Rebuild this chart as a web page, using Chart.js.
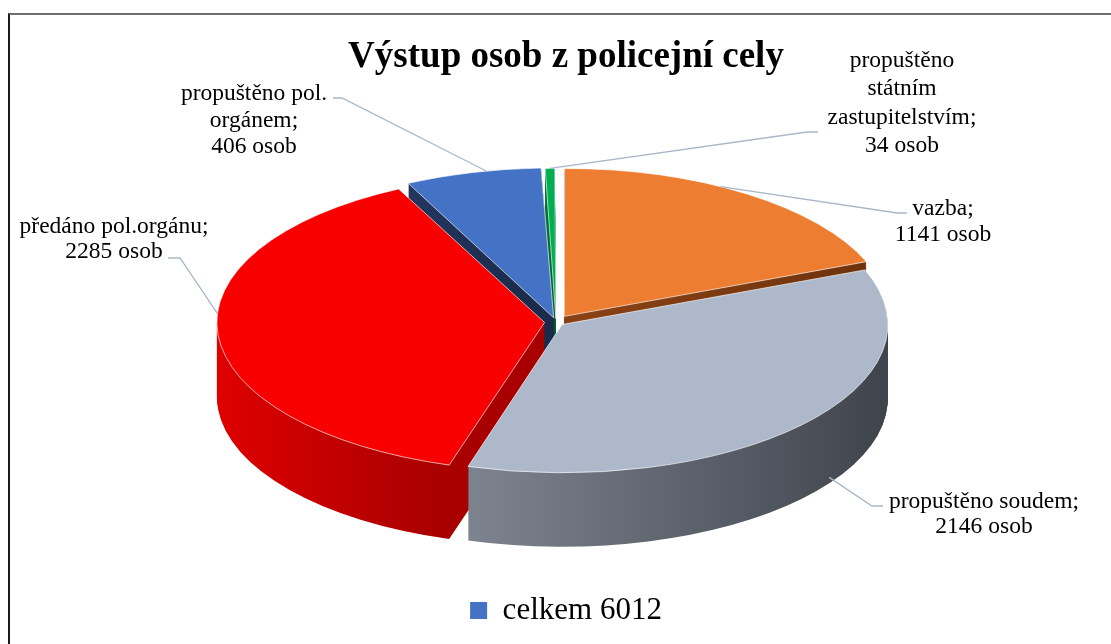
<!DOCTYPE html>
<html>
<head>
<meta charset="utf-8">
<script src="https://cdn.jsdelivr.net/npm/chart.js@4/dist/chart.umd.min.js"></script>
<style>
  html, body { margin: 0; padding: 0; background: #fff; }
  #wrap { position: relative; width: 1111px; height: 644px; overflow: hidden; }
  #frame { position: absolute; left: 8px; top: 13px; width: 1200px; height: 700px;
           border-left: 2px solid #1a1a1a; border-top: 2px solid #6e6e6e; box-sizing: border-box; }
  canvas { position: absolute; left: 0; top: 0; }
</style>
</head>
<body>
<div id="wrap">
  <div id="frame"></div>
  <canvas id="myChart" width="1111" height="644"></canvas>
</div>
<script>
// data, clockwise from 12 o'clock
const categories = ["vazba", "propuštěno soudem", "předáno pol.orgánu", "propuštěno pol. orgánem", "propuštěno státním zastupitelstvím"];
const values = [1141, 2146, 2285, 406, 34];
const nameLines = [
  ["vazba;"],
  ["propuštěno soudem;"],
  ["předáno pol.orgánu;"],
  ["propuštěno pol.", "orgánem;"],
  ["propuštěno", "státním", "zastupitelstvím;"]
];
const titleText = "Výstup osob z policejní cely";
const totalText = "celkem";

// styling
const topColors = ["#ED7D31", "#ADB9CA", "#F80000", "#4472C4", "#00B050"];
const sideColors = [
  ["#8a4215", "#6e320c"],
  ["#7c838e", "#3e434b"],
  ["#e20000", "#a80000"],
  ["#24365e", "#1a2a4a"],
  ["#007a36", "#005a28"]
];
const explode = [60, 33, 46, 38, 28];

const SERIF = "'Liberation Serif', 'Times New Roman', serif";
const CX = 556, CY = 322, TILT = 0.455, DEPTH = 74, RADIUS = 324;

// label layout: text centre x, first baseline y, line height, leader hook
const labelLayout = [
  { x: 943, y: 215, lh: 26, elbow: [897, 213], end: [907, 213], at: 0.42, frac: 1, drop: 0 },
  { x: 984, y: 508, lh: 25, elbow: [872, 506], end: [883, 506], at: 0.44, frac: 1, drop: 68 },
  { x: 114, y: 233, lh: 25, elbow: [180, 258], end: [168, 258], at: 0.56, frac: 1, drop: 0 },
  { x: 254, y: 100, lh: 26.5, elbow: [342, 98], end: [333, 98], at: 0.6, frac: 1, drop: 0 },
  { x: 902, y: 67, lh: 28.3, elbow: [807, 132], end: [818, 132], at: 0.5, frac: 1, drop: 0 }
];

function toScreen(arc, px, py) {
  return [CX + (px - arc.x), CY + (py - arc.y) * TILT];
}

// same displacement the arc element uses for its offset
function shift(arc) {
  const off = (arc.options.offset || 0) / 4;
  const circ = arc.endAngle - arc.startAngle;
  const fix = 1 - Math.sin(Math.min(Math.PI, circ));
  const d = off + off * fix;
  const mid = (arc.startAngle + arc.endAngle) / 2;
  return [Math.cos(mid) * d, Math.sin(mid) * d];
}

function rimPoint(arc, angle, frac) {
  const s = shift(arc);
  const r = arc.outerRadius * frac;
  return toScreen(arc, arc.x + s[0] + Math.cos(angle) * r, arc.y + s[1] + Math.sin(angle) * r);
}

const pie3d = {
  id: "pie3d",
  beforeDatasetsDraw(chart) {
    const ctx = chart.ctx;
    const arcs = chart.getDatasetMeta(0).data;
    const a0 = arcs[0];
    const fills = arcs.map((arc, i) => {
      let minX = Infinity, maxX = -Infinity;
      for (let t = 0; t <= 40; t++) {
        const ang = arc.startAngle + (arc.endAngle - arc.startAngle) * t / 40;
        const p = rimPoint(arc, ang, 1);
        minX = Math.min(minX, p[0]);
        maxX = Math.max(maxX, p[0]);
      }
      const g = ctx.createLinearGradient(minX - CX + a0.x, 0, maxX - CX + a0.x + 1, 0);
      g.addColorStop(0, sideColors[i][0]);
      g.addColorStop(1, sideColors[i][1]);
      return g;
    });
    for (let d = DEPTH; d >= 1; d--) {
      ctx.save();
      ctx.translate(CX, CY + d);
      ctx.scale(1, TILT);
      ctx.translate(-a0.x, -a0.y);
      arcs.forEach((arc, i) => {
        const saved = arc.options;
        arc.options = Object.assign({}, saved, { backgroundColor: fills[i], borderWidth: 0 });
        arc.draw(ctx);
        arc.options = saved;
      });
      ctx.restore();
    }
    ctx.save();
    ctx.translate(CX, CY);
    ctx.scale(1, TILT);
    ctx.translate(-a0.x, -a0.y);
  },
  afterDatasetsDraw(chart) {
    const ctx = chart.ctx;
    ctx.restore();
    const arcs = chart.getDatasetMeta(0).data;
    ctx.save();
    arcs.forEach((arc, i) => {
      const L = labelLayout[i];
      const ang = arc.startAngle + (arc.endAngle - arc.startAngle) * L.at;
      const p = rimPoint(arc, ang, L.frac);
      ctx.strokeStyle = "#a9b7c9";
      ctx.lineWidth = 1.3;
      ctx.beginPath();
      ctx.moveTo(p[0], p[1] + L.drop);
      ctx.lineTo(L.elbow[0], L.elbow[1]);
      ctx.lineTo(L.end[0], L.end[1]);
      ctx.stroke();
      const lines = nameLines[i].concat(values[i] + " osob");
      ctx.fillStyle = "#000";
      ctx.font = "23.5px " + SERIF;
      ctx.textAlign = "center";
      ctx.textBaseline = "alphabetic";
      lines.forEach((t, j) => ctx.fillText(t, L.x, L.y + j * L.lh));
    });
    ctx.restore();
  }
};

Chart.defaults.font.family = SERIF;
Chart.defaults.color = "#000";

const total = values.reduce((a, b) => a + b, 0);
const ctx = document.getElementById("myChart").getContext("2d");
const myChart = new Chart(ctx, {
  type: "pie",
  data: {
    labels: categories,
    datasets: [{
      data: values,
      backgroundColor: topColors,
      borderColor: "rgba(255,255,255,0.9)",
      borderWidth: 1,
      offset: explode,
      radius: RADIUS,
      clip: false
    }]
  },
  options: {
    responsive: false,
    animation: false,
    events: [],
    layout: { padding: { left: 21, top: 0, bottom: 8 } },
    plugins: {
      title: {
        display: true,
        text: titleText,
        font: { size: 37, weight: "bold", family: SERIF },
        color: "#000",
        padding: { top: 35, bottom: 0 }
      },
      legend: {
        position: "bottom",
        labels: {
          boxWidth: 17,
          boxHeight: 17,
          font: { size: 31, family: SERIF },
          color: "#000",
          generateLabels: () => [{
            text: totalText + " " + total,
            fillStyle: "#4472C4",
            strokeStyle: "#4472C4",
            lineWidth: 0,
            hidden: false,
            index: 0
          }]
        }
      },
      tooltip: { enabled: false }
    }
  },
  plugins: [pie3d]
});
</script>
</body>
</html>
